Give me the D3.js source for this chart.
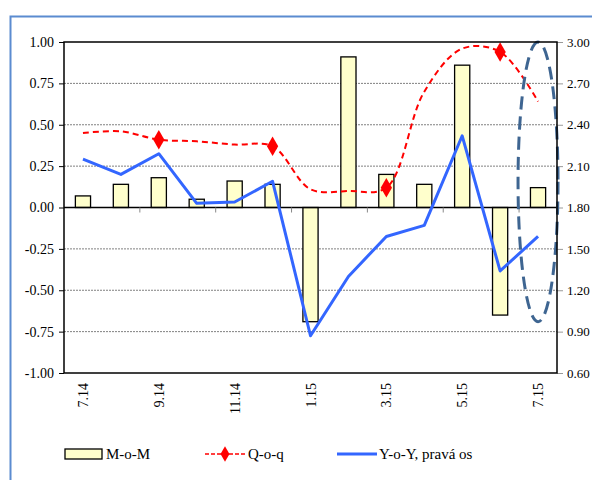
<!DOCTYPE html>
<html>
<head>
<meta charset="utf-8">
<script src="https://cdn.jsdelivr.net/npm/d3@7"></script>
<style>
body { margin: 0; background: #fff; }
</style>
</head>
<body>
<script>
// months 7.14 .. 7.15
var months = ["7.14","8.14","9.14","10.14","11.14","12.14","1.15","2.15","3.15","4.15","5.15","6.15","7.15"];
var tickMonths = ["7.14","9.14","11.14","1.15","3.15","5.15","7.15"];
var quarterMonths = ["9.14","12.14","3.15","6.15"];
var mom = [0.07, 0.14, 0.18, 0.05, 0.16, 0.14, -0.69, 0.91, 0.20, 0.14, 0.86, -0.65, 0.12];
var qoq = [0.45, 0.46, 0.41, 0.40, 0.38, 0.37, 0.11, 0.10, 0.12, 0.70, 0.96, 0.94, 0.64];
var yoy = [2.15, 2.04, 2.19, 1.83, 1.84, 1.99, 0.87, 1.30, 1.59, 1.67, 2.32, 1.34, 1.59];
var leftTicks = [1, 0.75, 0.5, 0.25, 0, -0.25, -0.5, -0.75, -1];
var rightTicks = [3.0, 2.7, 2.4, 2.1, 1.8, 1.5, 1.2, 0.9, 0.6];

var FONT = "Liberation Serif, DejaVu Serif, serif";
var W = 592, H = 480;
var margin = {top: 42, right: 35, bottom: 107, left: 64}
  , width = W - margin.left - margin.right
  , height = H - margin.top - margin.bottom;

var svg = d3.select("body").append("svg")
    .attr("width", W)
    .attr("height", H)
    .attr("font-family", FONT);

// outer chart border (only left/top visible)
svg.append("rect")
    .attr("x", 10.5).attr("y", 16.5)
    .attr("width", W + 20).attr("height", H + 20)
    .attr("fill", "none")
    .attr("stroke", "#5b8bd0")
    .attr("stroke-width", 2);

var g = svg.append("g")
    .attr("transform", "translate(" + margin.left + "," + margin.top + ")");

var x = d3.scaleBand().domain(months).range([0, width]).paddingInner(0.6).paddingOuter(0.3);
var xc = function (m) { return x(m) + x.bandwidth() / 2; };
var step = x.step();
var yL = d3.scaleLinear().domain([-1, 1]).range([height, 0]);
var yR = d3.scaleLinear().domain([0.6, 3.0]).range([height, 0]);

// gridlines
g.selectAll(".grid")
    .data(leftTicks.filter(function (d) { return d !== 0 && d !== 1 && d !== -1; }))
    .enter().append("line")
    .attr("x1", 0).attr("x2", width)
    .attr("y1", function (d) { return yL(d); })
    .attr("y2", function (d) { return yL(d); })
    .attr("stroke", "#808080")
    .attr("stroke-width", 1)
    .attr("stroke-dasharray", "2,1");

// left axis
var axL = g.append("g")
    .call(d3.axisLeft(yL).tickValues(leftTicks).tickSize(5).tickPadding(5))
    .attr("font-family", FONT).attr("font-size", 14);
axL.select(".domain").remove();
axL.selectAll(".tick line").attr("stroke", "#000");
axL.selectAll("text").attr("fill", "#000")
    .text(function (d) { return d3.format(".2f")(d).replace("\u2212", "-"); });

// right axis
var axR = g.append("g")
    .attr("transform", "translate(" + width + ",0)")
    .call(d3.axisRight(yR).tickValues(rightTicks).tickFormat(d3.format(".2f")).tickSize(6).tickPadding(4))
    .attr("font-family", FONT).attr("font-size", 13);
axR.select(".domain").remove();
axR.selectAll(".tick line").attr("stroke", "#999");
axR.selectAll("text").attr("fill", "#000");

// bars
g.selectAll(".bar")
    .data(mom)
    .enter().append("rect")
    .attr("class", "bar")
    .attr("x", function (d, i) { return x(months[i]); })
    .attr("width", x.bandwidth())
    .attr("y", function (d) { return yL(Math.max(0, d)); })
    .attr("height", function (d) { return Math.abs(yL(d) - yL(0)); })
    .attr("fill", "#ffffcc")
    .attr("stroke", "#000")
    .attr("stroke-width", 1.3);

// zero line + x ticks
g.append("line")
    .attr("x1", 0).attr("x2", width)
    .attr("y1", yL(0)).attr("y2", yL(0))
    .attr("stroke", "#000").attr("stroke-width", 1.3);
g.selectAll(".xtick")
    .data(months.filter(function (d, i) { return i % 2 === 1 && i < months.length - 1; }))
    .enter().append("line")
    .attr("x1", function (d) { return x(d) + x.bandwidth() / 2 + step / 2; })
    .attr("x2", function (d) { return x(d) + x.bandwidth() / 2 + step / 2; })
    .attr("y1", yL(0)).attr("y2", yL(0) + 5)
    .attr("stroke", "#888");

// Q-o-q
var lineQ = d3.line()
    .x(function (d, i) { return xc(months[i]); })
    .y(function (d) { return yL(d); })
    .curve(d3.curveCatmullRom.alpha(0.5));
g.append("path")
    .datum(qoq)
    .attr("d", lineQ)
    .attr("fill", "none")
    .attr("stroke", "#ff0000")
    .attr("stroke-width", 2)
    .attr("stroke-dasharray", "6,4");
g.selectAll(".dia")
    .data(quarterMonths)
    .enter().append("path")
    .attr("d", d3.symbol().type(d3.symbolDiamond).size(110))
    .attr("transform", function (m) {
        return "translate(" + xc(m) + "," + yL(qoq[months.indexOf(m)]) + ")";
    })
    .attr("fill", "#ff0000");

// Y-o-Y
var lineY = d3.line()
    .x(function (d, i) { return xc(months[i]); })
    .y(function (d) { return yR(d); });
g.append("path")
    .datum(yoy)
    .attr("d", lineY)
    .attr("fill", "none")
    .attr("stroke", "#3366ff")
    .attr("stroke-width", 3)
    .attr("stroke-linejoin", "round");

// annotation ellipse around last month
g.append("ellipse")
    .attr("cx", xc("7.15"))
    .attr("cy", (yL(1) + yL(-0.69)) / 2)
    .attr("rx", 20)
    .attr("ry", (yL(-0.69) - yL(1)) / 2)
    .attr("fill", "none")
    .attr("stroke", "#3e6591")
    .attr("stroke-width", 3)
    .attr("stroke-dasharray", "13,7");

// plot frame
g.append("rect")
    .attr("width", width).attr("height", height)
    .attr("fill", "none")
    .attr("stroke", "#000")
    .attr("stroke-width", 1.5);

// x labels
g.selectAll(".xlab")
    .data(tickMonths)
    .enter().append("text")
    .attr("transform", function (m) { return "translate(" + (xc(m) + 5) + "," + (height + 10) + ") rotate(-90)"; })
    .attr("text-anchor", "end")
    .attr("font-size", 14)
    .text(function (m) { return m; });

// legend
var leg = svg.append("g").attr("transform", "translate(0,454)").attr("font-size", 15);
leg.append("rect").attr("x", 65).attr("y", -5).attr("width", 37).attr("height", 10)
    .attr("fill", "#ffffcc").attr("stroke", "#000").attr("stroke-width", 1.3);
leg.append("text").attr("x", 106).attr("y", 5).text("M-o-M");
leg.append("line").attr("x1", 205).attr("x2", 245).attr("y1", 0).attr("y2", 0)
    .attr("stroke", "#ff0000").attr("stroke-width", 1.5).attr("stroke-dasharray", "4,2");
leg.append("path").attr("d", d3.symbol().type(d3.symbolDiamond).size(70))
    .attr("transform", "translate(225,0)").attr("fill", "#ff0000");
leg.append("text").attr("x", 248).attr("y", 5).text("Q-o-q");
leg.append("line").attr("x1", 337).attr("x2", 377).attr("y1", 0).attr("y2", 0)
    .attr("stroke", "#3366ff").attr("stroke-width", 3);
leg.append("text").attr("x", 379).attr("y", 5).text("Y-o-Y, pravá os");
</script>
</body>
</html>
